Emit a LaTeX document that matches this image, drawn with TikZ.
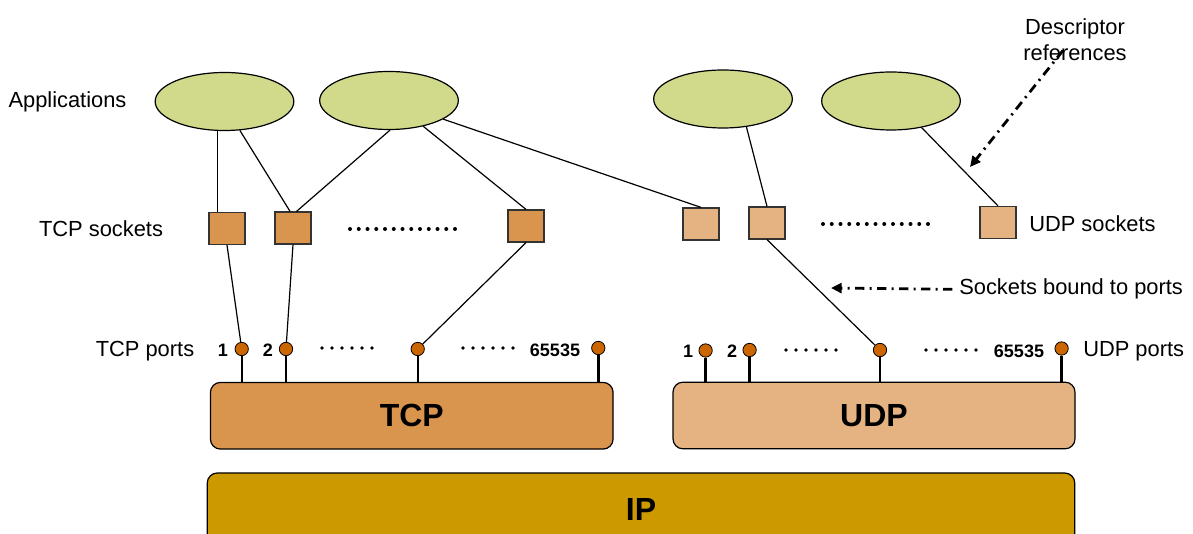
\documentclass[tikz,border=0pt]{standalone}
\usepackage{fontspec}
\setmainfont{Liberation Sans}
\usepackage{tikz}
\usetikzlibrary{shapes.geometric,arrows.meta}
\definecolor{appgreen}{RGB}{209,217,139}
\definecolor{tcporange}{RGB}{217,148,77}
\definecolor{udptan}{RGB}{229,179,130}
\definecolor{ipgold}{RGB}{204,153,0}
\definecolor{portorange}{RGB}{204,102,0}

\begin{document}
\begin{tikzpicture}[x=0.75pt,y=0.75pt,yscale=-1,xscale=1,
  app/.style={ellipse,draw,line width=0.9pt,fill=appgreen,minimum width=104pt,minimum height=43.5pt,inner sep=0pt},
  tcpsock/.style={draw=black!80,line width=0.9pt,fill=tcporange,minimum width=27pt,minimum height=24pt,inner sep=0pt},
  udpsock/.style={tcpsock,fill=udptan},
  port/.style={circle,draw,line width=0.6pt,fill=portorange,minimum size=10pt,inner sep=0pt},
  stem/.style={line width=1.8pt},
  layer/.style={draw,line width=0.9pt,rounded corners=7.5pt,minimum height=50pt,inner sep=0pt,font=\fontsize{24}{28}\selectfont\bfseries},
  lbl/.style={font=\fontsize{16.4}{19.9}\selectfont,inner sep=0pt},
  num/.style={font=\fontsize{13.5}{16}\selectfont\bfseries,inner sep=0pt,anchor=base},
  link/.style={line width=0.9pt},
  note/.style={line width=2.1pt,dash pattern=on 7pt off 4pt on 1.5pt off 4pt,-{Triangle[length=8pt,width=7.5pt]}},
  dotrow/.style={line width=3pt,line cap=round,dash pattern=on 0pt off 6.5625pt},
  portdots/.style={line width=2.8pt,line cap=round,dash pattern=on 0pt off 7.5pt}
]
\useasboundingbox (0,0) rectangle (1193,534);
\clip (0,0) rectangle (1193,534);

%Shape: Ellipse
\node[app] (a1) at (224.5,101.5) {};
\node[app] (a2) at (389,100.5) {};
\node[app] (a3) at (723,99) {};
\node[app] (a4) at (891,101) {};

%Shape: Square
\node[tcpsock] (s1) at (227,228.5) {};
\node[tcpsock] (s2) at (293,228) {};
\node[tcpsock] (s3) at (526,226) {};
\node[udpsock] (u1) at (701,224) {};
\node[udpsock] (u2) at (767,223) {};
\node[udpsock] (u3) at (998,222.5) {};

%Shape: Rounded Rect
\node[layer,fill=tcporange,minimum width=302pt] (tcp) at (411.75,415.75) {TCP};
\node[layer,fill=udptan,minimum width=301.5pt] (udp) at (874,415.5) {UDP};
\node[layer,fill=ipgold,minimum width=650.6pt,minimum height=54pt] (ip) at (641,509) {IP};

%Shape: Circle
\node[port] (tp1) at (241.7,349) {};
\node[port] (tp2) at (286,349) {};
\node[port] (tp3) at (417.7,349) {};
\node[port] (tp4) at (598.3,348) {};
\node[port] (up1) at (705.6,350.5) {};
\node[port] (up2) at (749.6,350) {};
\node[port] (up3) at (880,350) {};
\node[port] (up4) at (1061.6,348.5) {};

%Straight Lines
\draw[link] (a1.-104) -- (a1.-104 |- s1.north);
\draw[link] (a1.-62) -- (s2.100);
\draw[link] (a2.-88) -- (s2.78);
\draw[link] (a2.-37) -- (s3.north);
\draw[link] (a2.-19) -- (u1.north);
\draw[link] (a3.-50) -- (u2.north);
\draw[link] (a4.-41) -- (u3.north);
\draw[link] (s1.south) -- (tp1);
\draw[link] (s2.south) -- (tp2);
\draw[link] (s3.south) -- (tp3);
\draw[link] (u2.south) -- (up3);

%Straight Lines
\foreach \p in {tp1,tp2,tp3,tp4} \draw[stem] (\p.south) -- (\p.south |- tcp.north);
\foreach \p in {up1,up2,up3,up4} \draw[stem] (\p.south) -- (\p.south |- udp.north);

%Dots
\draw[dotrow] (350,229) -- (455.3,229);
\draw[dotrow] (823,224) -- (928.3,224);
\draw[portdots] (322,348) -- (372.3,348);
\draw[portdots] (463,348) -- (513.3,348);
\draw[portdots] (786,350) -- (836.3,350);
\draw[portdots] (926,350) -- (976.3,350);

% Text Node
\node[lbl,anchor=base] (apps) at (67.5,107.5) {Applications};
\node[lbl,anchor=base] (tcpsocks) at (101,236.5) {TCP sockets};
\node[lbl,anchor=base] (tcpports) at (145,357) {TCP ports};
\node[lbl,anchor=base west] (udpsocks) at (1029,232) {UDP sockets};
\node[lbl,anchor=base west] (udpports) at (1083,357) {UDP ports};
\node[lbl,anchor=base west] (bound) at (959,295) {Sockets bound to ports};
\node[lbl,align=center,anchor=north] (descr) at (1075,18) {Descriptor\\references};

% Text Node
\node[num] (tn1) at (223,357) {1};
\node[num] (tn2) at (268,357) {2};
\node[num] (tn3) at (555,357) {65535};
\node[num] (un1) at (688,358) {1};
\node[num] (un2) at (732,358) {2};
\node[num] (un3) at (1019,358) {65535};

%Arrows
\coordinate (dtip) at (970,167);
\coordinate (btip) at (831,288);
\draw[note] ([xshift=-9pt,yshift=-8pt]descr.south) -- (dtip);
\draw[note] ([xshift=-5pt]bound.west) -- (btip);

\end{tikzpicture}
\end{document}
